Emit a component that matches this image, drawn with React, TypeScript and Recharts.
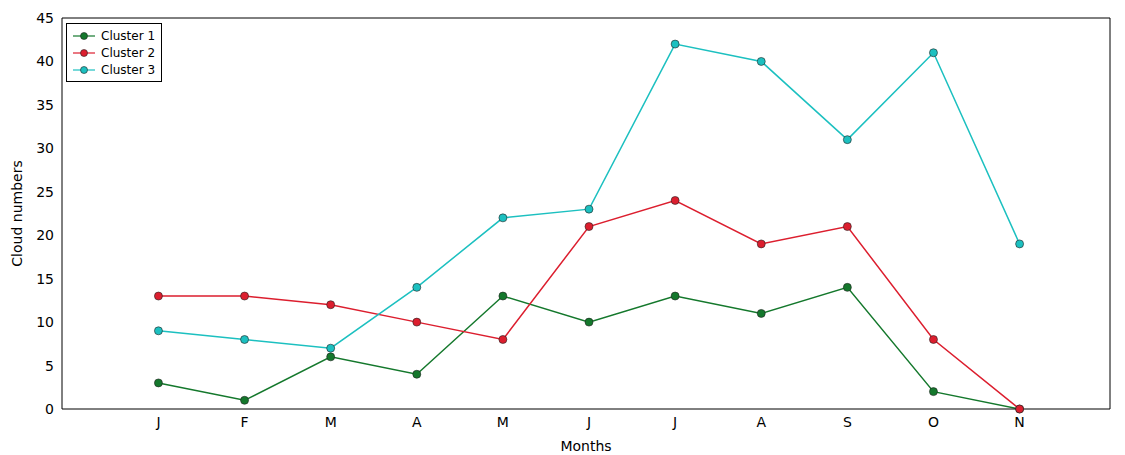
import { LineChart, Line, XAxis, YAxis, ReferenceLine } from 'recharts';

const months = ['J', 'F', 'M', 'A', 'M', 'J', 'J', 'A', 'S', 'O', 'N'];
const cluster1 = [3, 1, 6, 4, 13, 10, 13, 11, 14, 2, 0];
const cluster2 = [13, 13, 12, 10, 8, 21, 24, 19, 21, 8, 0];
const cluster3 = [9, 8, 7, 14, 22, 23, 42, 40, 31, 41, 19];
const yTicks = [0, 5, 10, 15, 20, 25, 30, 35, 40, 45];

const series = [
  { key: 'c1', name: 'Cluster 1', color: '#14782c' },
  { key: 'c2', name: 'Cluster 2', color: '#dc1e2e' },
  { key: 'c3', name: 'Cluster 3', color: '#1cc0c0' },
];

const data = months.map((m, i) => ({ i, c1: cluster1[i], c2: cluster2[i], c3: cluster3[i] }));

const font = { fontFamily: 'DejaVu Sans', fontSize: 14, fill: '#000' };

function LegendBox() {
  return (
    <div style={{ position: 'absolute', left: 66, top: 23, border: '1px solid #000', background: '#fff', padding: '3px 6px', fontFamily: 'DejaVu Sans', fontSize: 12 }}>
      {series.map((s) => (
        <div key={s.key} style={{ display: 'flex', alignItems: 'center', height: 17 }}>
          <svg width={22} height={10} style={{ marginRight: 6 }}>
            <line x1={0} y1={5} x2={22} y2={5} stroke={s.color} strokeWidth={1.2} />
            <circle cx={11} cy={5} r={3.5} fill={s.color} stroke="#222" strokeWidth={0.6} />
          </svg>
          {s.name}
        </div>
      ))}
    </div>
  );
}

export default function App() {
  return (
    <div style={{ position: 'absolute', left: 0, top: 0, width: 1125, height: 455, background: '#fff' }}>
      <LineChart width={1125} height={455} data={data} margin={{ top: 18, right: 15, left: 0, bottom: 0 }}>
        <XAxis
          dataKey="i"
          type="number"
          domain={[-1.12, 11.05]}
          ticks={months.map((_, i) => i)}
          tickFormatter={(v: number) => months[v]}
          tick={font}
          tickLine={false}
          stroke="#000"
          height={46}
          label={{ value: 'Months', position: 'insideBottom', offset: 4, style: font }}
        />
        <YAxis
          domain={[0, 45]}
          ticks={yTicks}
          tick={font}
          tickLine={false}
          stroke="#000"
          width={62}
          label={{ value: 'Cloud numbers', angle: -90, position: 'insideLeft', offset: 17, style: { ...font, textAnchor: 'middle' } }}
        />
        <ReferenceLine y={45} stroke="#000" ifOverflow="extendDomain" />
        <ReferenceLine x={11.05} stroke="#000" />
        {series.map((s) => (
          <Line
            key={s.key}
            dataKey={s.key}
            name={s.name}
            stroke={s.color}
            strokeWidth={1.5}
            dot={{ r: 4, fill: s.color, stroke: '#222', strokeWidth: 0.6 }}
            isAnimationActive={false}
          />
        ))}
      </LineChart>
      <LegendBox />
    </div>
  );
}
